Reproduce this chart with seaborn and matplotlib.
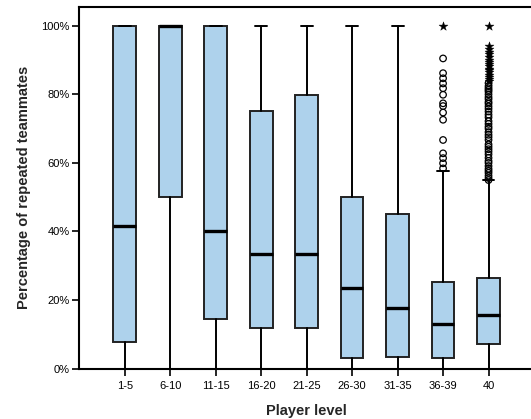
import matplotlib
matplotlib.use("Agg")
import matplotlib.pyplot as plt
import seaborn as sns
import numpy as np
from matplotlib.ticker import FuncFormatter

sns.set_theme(style="ticks")
plt.rcParams['font.family'] = ['Liberation Sans', 'DejaVu Sans']

categories = ["1-5", "6-10", "11-15", "16-20", "21-25", "26-30", "31-35", "36-39", "40"]
whisk_lo = [0, 0, 0, 0, 0, 0, 0, 0, 0]
q1 = [7.8, 50.0, 14.4, 11.9, 11.8, 3.2, 3.4, 3.1, 7.1]
median = [41.5, 100.0, 40.0, 33.4, 33.5, 23.4, 17.8, 13.0, 15.5]
q3 = [100.0, 100.0, 100.0, 75.2, 79.9, 50.0, 45.1, 25.2, 26.3]
whisk_hi = [100.0, 100.0, 100.0, 100.0, 100.0, 100.0, 100.0, 57.5, 55.0]

out_circle_3639 = [90.5, 86.2, 84.7, 83.2, 81.8, 79.9, 77.4, 76.6, 74.7, 72.6,
                   66.7, 62.8, 61.4, 59.9, 58.4]
out_star_3639 = [100.0]
out_circle_40 = [55.0, 55.6, 56.3, 57.1, 57.7, 58.3, 59.1, 60.0, 60.6, 61.5,
                 62.5, 63.3, 64.0, 64.7, 65.4, 66.7, 67.5, 68.2, 69.0, 70.0,
                 70.6, 71.4, 72.2, 73.3, 74.1, 75.0, 75.8, 76.5, 77.3, 77.8,
                 78.6, 79.2, 80.0, 80.8, 81.3, 81.8, 82.4, 83.3]
out_star_40 = [84.0, 84.6, 85.0, 85.7, 86.4, 87.0, 87.5, 88.2, 88.9, 89.5,
               90.0, 90.9, 91.7, 92.3, 93.3, 94.1, 100.0]

fig = plt.figure(figsize=(5.31, 4.19), dpi=100)
W, H = 531, 419
left_px, right_px, top_px, bot_px = 79.3, 534.0, 6.7, 368.5
ax = fig.add_axes([left_px / W, (H - bot_px) / H, (right_px - left_px) / W, (bot_px - top_px) / H])

stats = []
for i, c in enumerate(categories):
    stats.append(dict(label=c, whislo=whisk_lo[i], q1=q1[i], med=median[i],
                      q3=q3[i], whishi=whisk_hi[i], fliers=[]))

pos = np.arange(len(categories))
ax.bxp(stats, positions=pos, widths=0.5, capwidths=0.26, showfliers=False,
       patch_artist=True,
       boxprops=dict(facecolor="#aed2ec", edgecolor="#222222", linewidth=1.4),
       medianprops=dict(color="black", linewidth=2.4, solid_capstyle="butt"),
       whiskerprops=dict(color="black", linewidth=1.4),
       capprops=dict(color="black", linewidth=1.4))

cx = [categories.index("36-39")] * len(out_circle_3639) + [categories.index("40")] * len(out_circle_40)
cy = out_circle_3639 + out_circle_40
sns.scatterplot(x=cx, y=cy, ax=ax, marker="o", s=22, facecolors="none",
                edgecolor="black", linewidth=0.9, zorder=5, legend=False)
sx = [categories.index("36-39")] * len(out_star_3639) + [categories.index("40")] * len(out_star_40)
sy = out_star_3639 + out_star_40
sns.scatterplot(x=sx, y=sy, ax=ax, marker="*", s=45, color="black",
                edgecolor="black", linewidth=0.3, zorder=6, legend=False)

ax.set_xlim(-1, 9)
ax.set_ylim(0, 105.6)
ax.set_xticks(pos)
ax.set_xticklabels(categories)
ax.set_yticks([0, 20, 40, 60, 80, 100])
ax.yaxis.set_major_formatter(FuncFormatter(lambda v, p: f"{int(v)}%"))
ax.tick_params(axis="both", direction="out", length=5, width=1.2, colors="black",
               labelsize=8, pad=2)
ax.tick_params(axis="x", pad=4)
for s in ["left", "bottom", "top"]:
    ax.spines[s].set_color("black")
    ax.spines[s].set_linewidth(1.5)
ax.spines["right"].set_visible(False)

ax.set_xlabel("Player level", fontsize=10.5, fontweight="bold", labelpad=9)
ax.set_ylabel("Percentage of repeated teammates", fontsize=10.5, fontweight="bold", labelpad=7)

fig.savefig("out.png", dpi=100)
